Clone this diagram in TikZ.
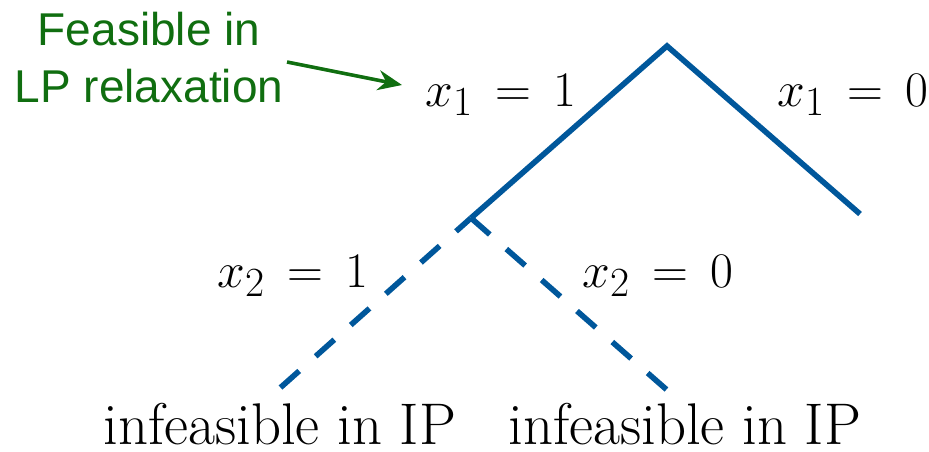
\documentclass[tikz,border=0pt]{standalone}
\usepackage{fontspec}
\newfontfamily\notefont{Liberation Sans}
\usetikzlibrary{arrows.meta}
\definecolor{treeblue}{RGB}{0,87,155}
\definecolor{notegreen}{RGB}{16,110,16}
\newcommand\eqlabel[1]{$\thickmuskip=8mu #1$}
\begin{document}
\begin{tikzpicture}[x=0.5pt,y=-0.5pt,
  branch/.style={draw=treeblue,line width=2.8pt,line cap=butt,line join=miter},
  dashbranch/.style={branch,dash pattern=on 12.5pt off 11pt},
  mlab/.style={inner sep=0pt,anchor=base west,font=\fontsize{30.5}{36}\selectfont},
  tlab/.style={inner sep=0pt,anchor=base west,font=\fontsize{29.4}{35}\selectfont},
  note/.style={inner sep=0pt,anchor=base,align=center,text=notegreen,font=\notefont\fontsize{23}{28.5}\selectfont},
  pointer/.style={draw=notegreen,line width=1.8pt,-{Stealth[length=12pt,width=10pt]}}]
\useasboundingbox (0,0) rectangle (929,451);
% tree points
\coordinate (apex) at (667,46);
\coordinate (junc) at (471,218);
\coordinate (rend) at (860,214);
\coordinate (lleaf) at (280,388);
\coordinate (rleaf) at (667,390);
% branches
\draw[branch] (junc) -- (apex) -- (rend);
\draw[dashbranch,dash phase=2.5pt] (junc) -- (lleaf);
\draw[dashbranch] (junc) -- (rleaf);
% labels
\node[mlab] (l11) at (425,106) {\eqlabel{x_1 = 1}};
\node[mlab] (l10) at (777,106) {\eqlabel{x_1 = 0}};
\node[mlab] (l21) at (217,287) {\eqlabel{x_2 = 1}};
\node[mlab] (l20) at (582,287) {\eqlabel{x_2 = 0}};
\node[tlab] (inf1) at (103,444) {infeasible in IP};
\node[tlab] (inf2) at (508,444) {infeasible in IP};
% note
\node[note] (feas) at (149,102) {Feasible in\\LP relaxation};
\coordinate (ptrs) at (287,62);
\coordinate (ptre) at (402,85);
\draw[pointer] (ptrs) -- (ptre);
\end{tikzpicture}
\end{document}
